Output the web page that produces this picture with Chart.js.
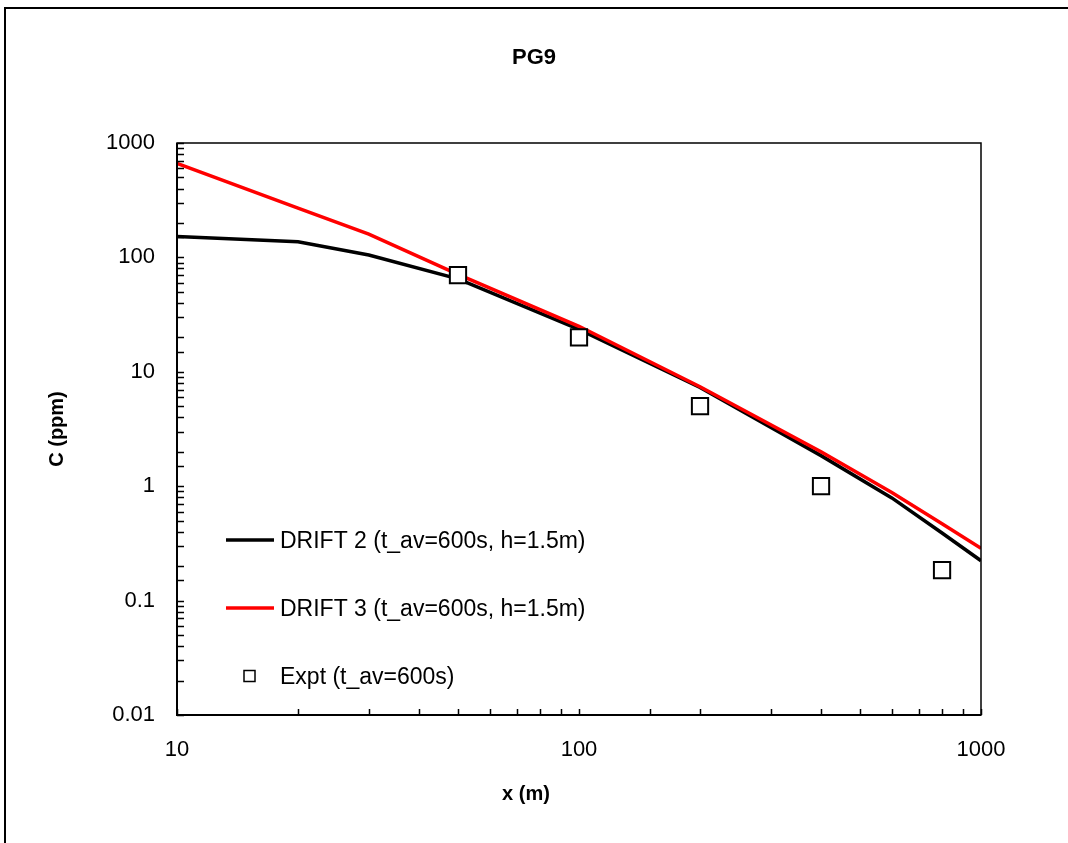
<!DOCTYPE html>
<html>
<head>
<meta charset="utf-8">
<title>PG9</title>
<script src="https://cdn.jsdelivr.net/npm/chart.js@4.4.0/dist/chart.umd.min.js"></script>
<style>
  html, body { margin: 0; padding: 0; background: #fff; }
  #wrap { position: relative; width: 1068px; height: 843px; }
  canvas { display: block; }
</style>
</head>
<body>
<div id="wrap"><canvas id="myChart" width="1068" height="843"></canvas></div>
<script>
// Data
const xModel = [10, 20, 30, 50, 100, 200, 400, 600, 800, 1000];
const drift2 = [152, 137, 105, 65, 23.5, 7.3, 1.85, 0.79, 0.39, 0.223];
const drift3 = [665, 270, 160, 71, 25, 7.4, 2.0, 0.88, 0.47, 0.286];
const xExpt  = [50, 100, 200, 400, 800];
const expt   = [70, 20, 5, 1, 0.185];

const seriesLabels = ['DRIFT 2 (t_av=600s, h=1.5m)', 'DRIFT 3 (t_av=600s, h=1.5m)', 'Expt (t_av=600s)'];
const xTickLabels  = ['10', '100', '1000'];
const yTickLabels  = ['0.01', '0.1', '1', '10', '100', '1000'];
const chartTitle   = 'PG9';
const xTitle       = 'x (m)';
const yTitle       = 'C (ppm)';

const FONT = '"Liberation Sans", Arial, sans-serif';
Chart.defaults.font.family = FONT;
Chart.defaults.color = '#000';

const pts = (xs, ys) => xs.map((x, i) => ({ x, y: ys[i] }));

function tickLabel(list) {
  return (v) => {
    const hit = list.find(l => Math.abs(parseFloat(l) - v) / v < 1e-6);
    return hit || '';
  };
}

// Page frame, titles, inward ticks, plot box, legend
const decor = {
  id: 'decor',
  beforeDraw(c) {
    const ctx = c.ctx;
    ctx.save();
    ctx.fillStyle = '#fff';
    ctx.fillRect(0, 0, c.width, c.height);
    ctx.strokeStyle = '#000';
    ctx.lineWidth = 2;
    ctx.beginPath();
    ctx.moveTo(5, c.height);
    ctx.lineTo(5, 8);
    ctx.lineTo(c.width, 8);
    ctx.stroke();
    ctx.fillStyle = '#000';
    ctx.textAlign = 'center';
    ctx.textBaseline = 'middle';
    ctx.font = 'bold 22px ' + FONT;
    ctx.fillText(chartTitle, 534, 58);
    ctx.font = 'bold 20px ' + FONT;
    ctx.fillText(xTitle, 526, 794);
    ctx.restore();
  },
  afterDatasetsDraw(c) {
    const ctx = c.ctx;
    const a = c.chartArea;
    const xs = c.scales.x, ys = c.scales.y;
    ctx.save();
    ctx.strokeStyle = '#000';
    ctx.lineWidth = 1.5;
    ctx.strokeRect(a.left, a.top, a.right - a.left, a.bottom - a.top);
    ctx.lineWidth = 2;
    ctx.beginPath();
    ctx.moveTo(a.left, a.top);
    ctx.lineTo(a.left, a.bottom);
    ctx.lineTo(a.right, a.bottom);
    ctx.stroke();
    ctx.lineWidth = 1.5;
    ctx.beginPath();
    xs.ticks.forEach(t => {
      const px = Math.round(xs.getPixelForValue(t.value)) + 0.5;
      ctx.moveTo(px, a.bottom);
      ctx.lineTo(px, a.bottom - 6);
    });
    ys.ticks.forEach(t => {
      const py = Math.round(ys.getPixelForValue(t.value)) + 0.5;
      ctx.moveTo(a.left, py);
      ctx.lineTo(a.left + 7, py);
    });
    ctx.stroke();
    ctx.restore();
  },
  afterDraw(c) {
    const ctx = c.ctx;
    ctx.save();
    ctx.font = '23px ' + FONT;
    ctx.textAlign = 'left';
    ctx.textBaseline = 'middle';
    const rows = [
      { y: 540, color: '#000' },
      { y: 608, color: '#ff0000' },
      { y: 676, square: true }
    ];
    rows.forEach((r, i) => {
      if (r.square) {
        ctx.fillStyle = '#fff';
        ctx.fillRect(244, r.y - 5.5, 11, 11);
        ctx.strokeStyle = '#000';
        ctx.lineWidth = 1.5;
        ctx.strokeRect(244, r.y - 5.5, 11, 11);
      } else {
        ctx.strokeStyle = r.color;
        ctx.lineWidth = 3.5;
        ctx.beginPath();
        ctx.moveTo(226, r.y);
        ctx.lineTo(274, r.y);
        ctx.stroke();
      }
      ctx.fillStyle = '#000';
      ctx.fillText(seriesLabels[i], 280, r.y + 2);
    });
    ctx.restore();
  }
};

const ctx = document.getElementById('myChart').getContext('2d');
new Chart(ctx, {
  type: 'scatter',
  data: {
    datasets: [
      {
        label: seriesLabels[0],
        data: pts(xModel, drift2),
        showLine: true,
        borderColor: '#000',
        borderWidth: 3.5,
        pointRadius: 0,
        order: 2
      },
      {
        label: seriesLabels[1],
        data: pts(xModel, drift3),
        showLine: true,
        borderColor: '#ff0000',
        borderWidth: 3.5,
        pointRadius: 0,
        order: 1
      },
      {
        label: seriesLabels[2],
        data: pts(xExpt, expt),
        showLine: false,
        pointStyle: 'rect',
        pointRadius: 11.5,
        pointBackgroundColor: '#fff',
        pointBorderColor: '#000',
        pointBorderWidth: 2,
        order: 0
      }
    ]
  },
  options: {
    responsive: false,
    animation: false,
    devicePixelRatio: 1,
    layout: { padding: { top: 143, left: 0, right: 87, bottom: 32 } },
    plugins: {
      legend: { display: false },
      title: { display: false },
      tooltip: { enabled: false }
    },
    scales: {
      x: {
        type: 'logarithmic',
        min: 10,
        max: 1000,
        grid: { display: false, drawTicks: false },
        border: { display: false },
        ticks: {
          autoSkip: false,
          maxRotation: 0,
          padding: 22,
          font: { size: 22 },
          callback: tickLabel(xTickLabels)
        },
        afterFit: (s) => { s.height = 96; }
      },
      y: {
        type: 'logarithmic',
        min: 0.01,
        max: 1000,
        grid: { display: false, drawTicks: false },
        border: { display: false },
        ticks: {
          autoSkip: false,
          padding: 22,
          font: { size: 22 },
          callback: tickLabel(yTickLabels)
        },
        title: { display: true, text: yTitle, font: { size: 20, weight: 'bold' }, padding: { top: 45, bottom: 0 } },
        afterFit: (s) => { s.width = 177; }
      }
    }
  },
  plugins: [decor]
});
</script>
</body>
</html>
